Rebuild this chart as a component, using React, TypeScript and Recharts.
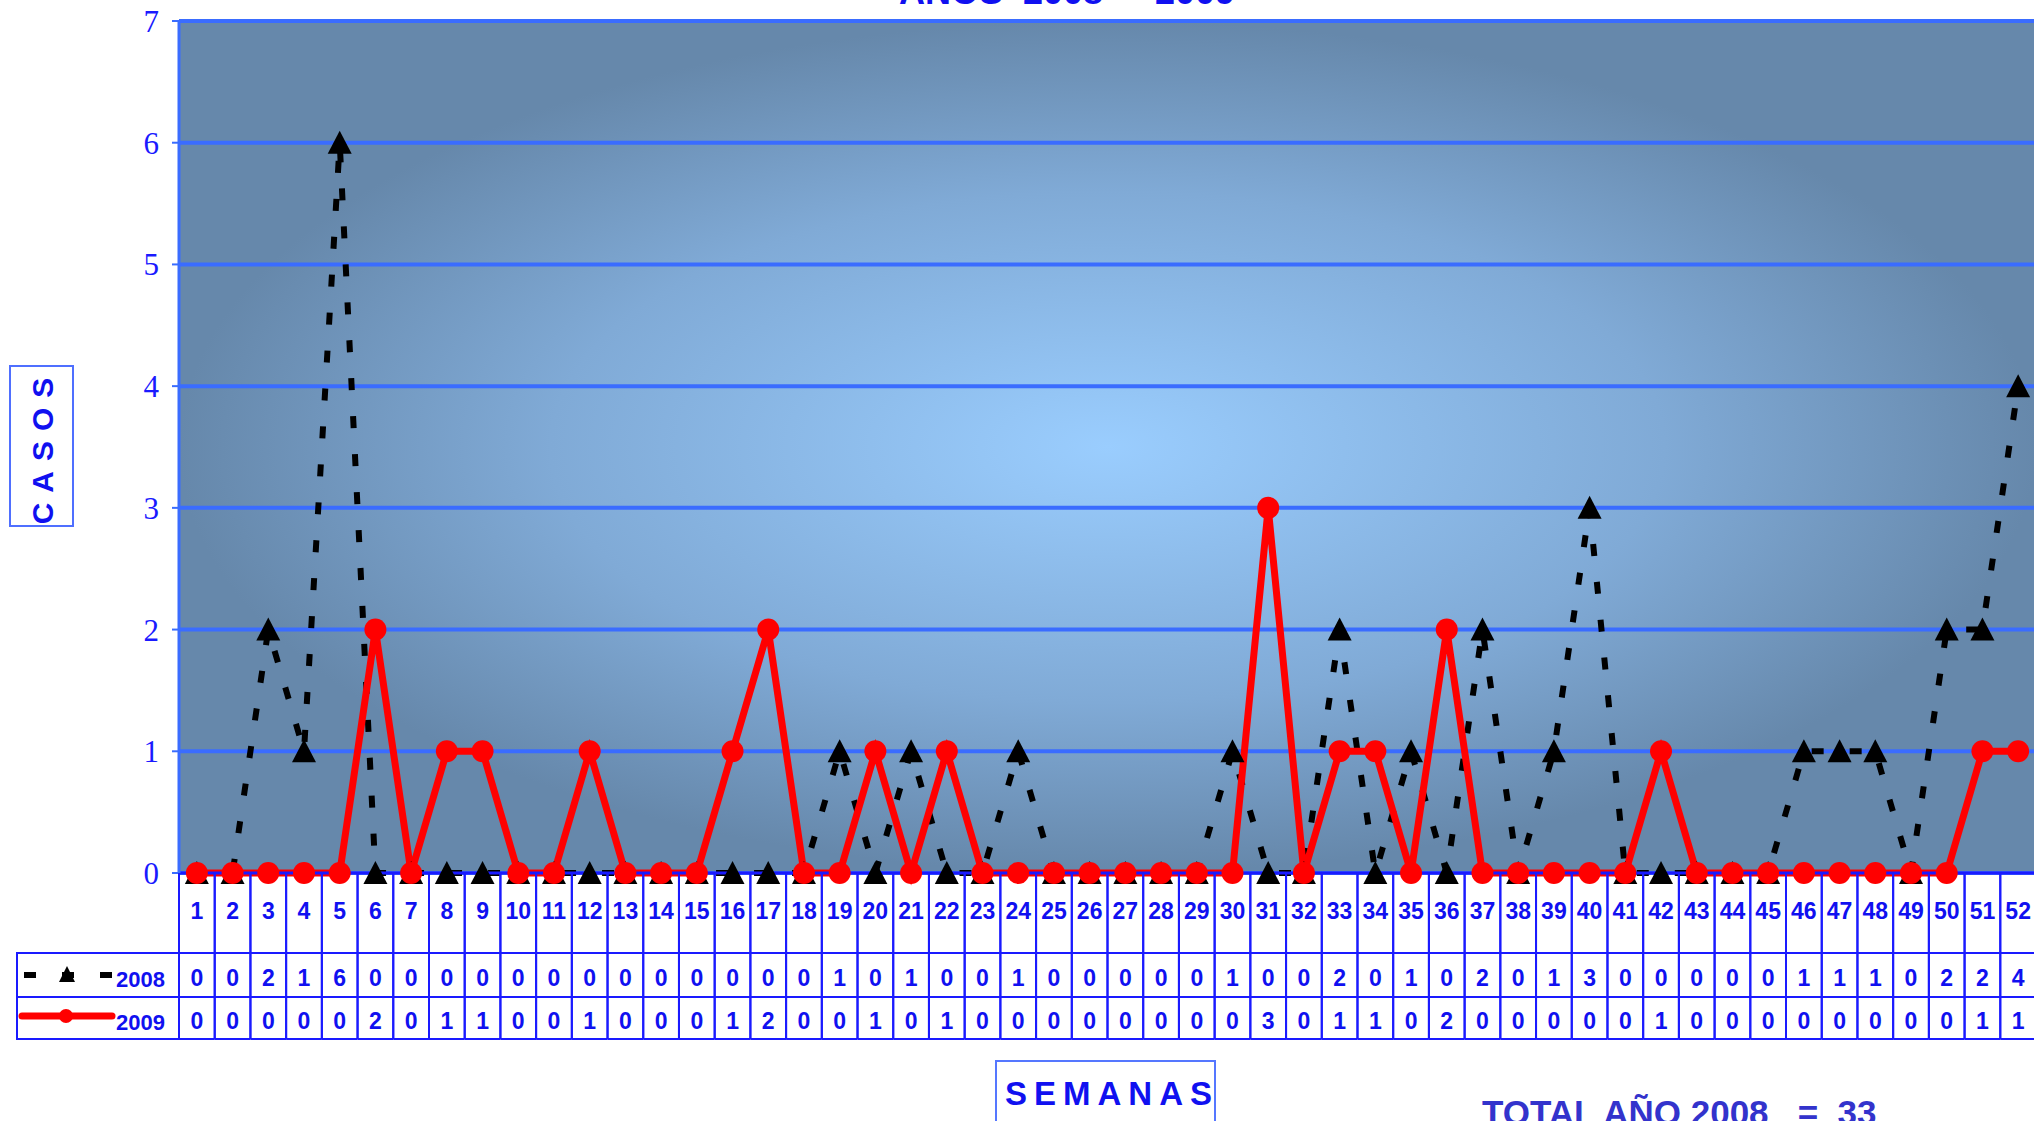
import { CartesianGrid, Line, LineChart, XAxis, YAxis } from 'recharts';

const WEEKS = [
  1, 2, 3, 4, 5, 6, 7, 8, 9, 10, 11, 12, 13, 14, 15, 16, 17, 18, 19, 20, 21, 22, 23, 24, 25, 26,
  27, 28, 29, 30, 31, 32, 33, 34, 35, 36, 37, 38, 39, 40, 41, 42, 43, 44, 45, 46, 47, 48, 49, 50, 51, 52,
];
const CASES_2008 = [
  0, 0, 2, 1, 6, 0, 0, 0, 0, 0, 0, 0, 0, 0, 0, 0, 0, 0, 1, 0, 1, 0, 0, 1, 0, 0,
  0, 0, 0, 1, 0, 0, 2, 0, 1, 0, 2, 0, 1, 3, 0, 0, 0, 0, 0, 1, 1, 1, 0, 2, 2, 4,
];
const CASES_2009 = [
  0, 0, 0, 0, 0, 2, 0, 1, 1, 0, 0, 1, 0, 0, 0, 1, 2, 0, 0, 1, 0, 1, 0, 0, 0, 0,
  0, 0, 0, 0, 3, 0, 1, 1, 0, 2, 0, 0, 0, 0, 0, 1, 0, 0, 0, 0, 0, 0, 0, 0, 1, 1,
];
const Y_TICKS = [0, 1, 2, 3, 4, 5, 6, 7];

const data = WEEKS.map((week, i) => ({ week, y2008: CASES_2008[i], y2009: CASES_2009[i] }));

// layout
const W = 2036;
const H = 1121;
const PLOT_LEFT = 179;
const Y_AXIS_W = 60;
const PLOT_TOP = 21;
const PLOT_BOTTOM = 873;
const X_AXIS_H = 240;
const BAND = (W - PLOT_LEFT) / WEEKS.length;
const ROW1 = 953;
const ROW2 = 997;
const ROW3 = 1039;

const BLUE = '#1010f0';
const BORDER = '#1a1aff';
const GRID = '#3a6cff';
const FONT = '"Liberation Sans", Arial, sans-serif';

function TableTick(props: any) {
  const { x, payload } = props;
  const i = props.index ?? payload.index;
  const l = x - BAND / 2;
  const r = x + BAND / 2;
  const txt = { fill: BLUE, fontFamily: FONT, fontWeight: 700, fontSize: 23, textAnchor: 'middle' as const };
  return (
    <g>
      <line x1={l} x2={l} y1={PLOT_BOTTOM} y2={ROW3} stroke={BORDER} strokeWidth={2} />
      <line x1={r} x2={r} y1={PLOT_BOTTOM} y2={ROW3} stroke={BORDER} strokeWidth={2} />
      <line x1={l} x2={r} y1={ROW1} y2={ROW1} stroke={BORDER} strokeWidth={2} />
      <line x1={l} x2={r} y1={ROW2} y2={ROW2} stroke={BORDER} strokeWidth={2} />
      <line x1={l} x2={r} y1={ROW3} y2={ROW3} stroke={BORDER} strokeWidth={2} />
      <text x={x} y={919} {...txt}>{payload.value}</text>
      <text x={x} y={986} {...txt}>{CASES_2008[i]}</text>
      <text x={x} y={1029} {...txt}>{CASES_2009[i]}</text>
    </g>
  );
}

function TriangleDot(props: any) {
  const { cx, cy } = props;
  if (cx == null || cy == null) return null;
  return <polygon points={`${cx},${cy - 12} ${cx - 12},${cy + 11} ${cx + 12},${cy + 11}`} fill="#000" />;
}

function CircleDot(props: any) {
  const { cx, cy } = props;
  if (cx == null || cy == null) return null;
  return <circle cx={cx} cy={cy} r={11} fill="#ff0000" />;
}

function Overlay() {
  const txt = { fill: BLUE, fontFamily: FONT, fontWeight: 700 };
  return (
    <svg width={2034} height={H} style={{ position: 'absolute', left: 0, top: 0, pointerEvents: 'none' }}>
      <text x={1067} y={4} textAnchor="middle" fontSize={36} {...txt} style={{ whiteSpace: 'pre' }}>
        {'AÑOS  2008  -  2009'}
      </text>

      {/* CASOS */}
      <rect x={10} y={366} width={63} height={160} fill="none" stroke="#4f6fff" strokeWidth={2} />
      <text
        x={0}
        y={0}
        transform="translate(53,446) rotate(-90)"
        textAnchor="middle"
        fontSize={30}
        letterSpacing={10}
        {...txt}
      >
        CASOS
      </text>

      {/* legend column of the data table */}
      <rect x={17} y={ROW1} width={PLOT_LEFT - 17} height={ROW3 - ROW1} fill="none" stroke={BORDER} strokeWidth={2} />
      <line x1={17} x2={PLOT_LEFT} y1={ROW2} y2={ROW2} stroke={BORDER} strokeWidth={2} />
      <line x1={24} x2={112} y1={975} y2={975} stroke="#000" strokeWidth={6} strokeDasharray="12 26" />
      <polygon points="67,966 59,982 75,982" fill="#000" />
      <text x={116} y={987} fontSize={22} {...txt}>2008</text>
      <line x1={22} x2={112} y1={1016} y2={1016} stroke="#ff0000" strokeWidth={7} strokeLinecap="round" />
      <circle cx={66} cy={1016} r={7} fill="#ff0000" />
      <text x={116} y={1030} fontSize={22} {...txt}>2009</text>

      {/* SEMANAS */}
      <rect x={996} y={1061} width={219} height={70} fill="none" stroke="#5577ff" strokeWidth={2} />
      <text x={1005} y={1105} fontSize={33} letterSpacing={7} {...txt}>SEMANAS</text>

      <text x={1482} y={1125} fontSize={35} fill="#3333cc" fontFamily={FONT} fontWeight={700} style={{ whiteSpace: 'pre' }}>
        {'TOTAL AÑO 2008   =  33'}
      </text>
    </svg>
  );
}

export default function App() {
  return (
    <div style={{ position: 'absolute', left: 0, top: 0, width: 2034, height: H, overflow: 'hidden', background: '#fff' }}>
      <svg width={0} height={0} style={{ position: 'absolute' }}>
        <defs>
          <radialGradient id="plotBg" cx="0.5" cy="0.5" r="0.5">
            <stop offset="0" stopColor="#9acdfe" />
            <stop offset="0.6" stopColor="#80aad6" />
            <stop offset="1" stopColor="#6688ab" />
          </radialGradient>
        </defs>
      </svg>
      <LineChart
        width={W}
        height={H}
        data={data}
        margin={{ top: PLOT_TOP, right: 0, left: PLOT_LEFT - Y_AXIS_W, bottom: H - PLOT_BOTTOM - X_AXIS_H }}
      >
        <CartesianGrid vertical={false} stroke={GRID} strokeWidth={4} fill="url(#plotBg)" fillOpacity={1} />
        <XAxis
          dataKey="week"
          scale="band"
          interval={0}
          height={X_AXIS_H}
          tickLine={false}
          axisLine={{ stroke: BORDER, strokeWidth: 3 }}
          tick={<TableTick />}
        />
        <YAxis
          domain={[0, 7]}
          ticks={Y_TICKS}
          width={Y_AXIS_W}
          tickSize={7}
          tickMargin={13}
          interval={0}
          axisLine={{ stroke: '#3a6cff', strokeWidth: 3 }}
          tickLine={{ stroke: '#3a6cff', strokeWidth: 2 }}
          tick={{ fill: '#1a1aff', fontSize: 31, fontFamily: '"Liberation Serif", "Times New Roman", serif' }}
        />
        <Line
          type="linear"
          dataKey="y2008"
          stroke="#000"
          strokeWidth={6}
          strokeDasharray="12 26"
          dot={<TriangleDot />}
          activeDot={false}
          isAnimationActive={false}
        />
        <Line
          type="linear"
          dataKey="y2009"
          stroke="#ff0000"
          strokeWidth={7}
          dot={<CircleDot />}
          activeDot={false}
          isAnimationActive={false}
        />
      </LineChart>
      <Overlay />
    </div>
  );
}
